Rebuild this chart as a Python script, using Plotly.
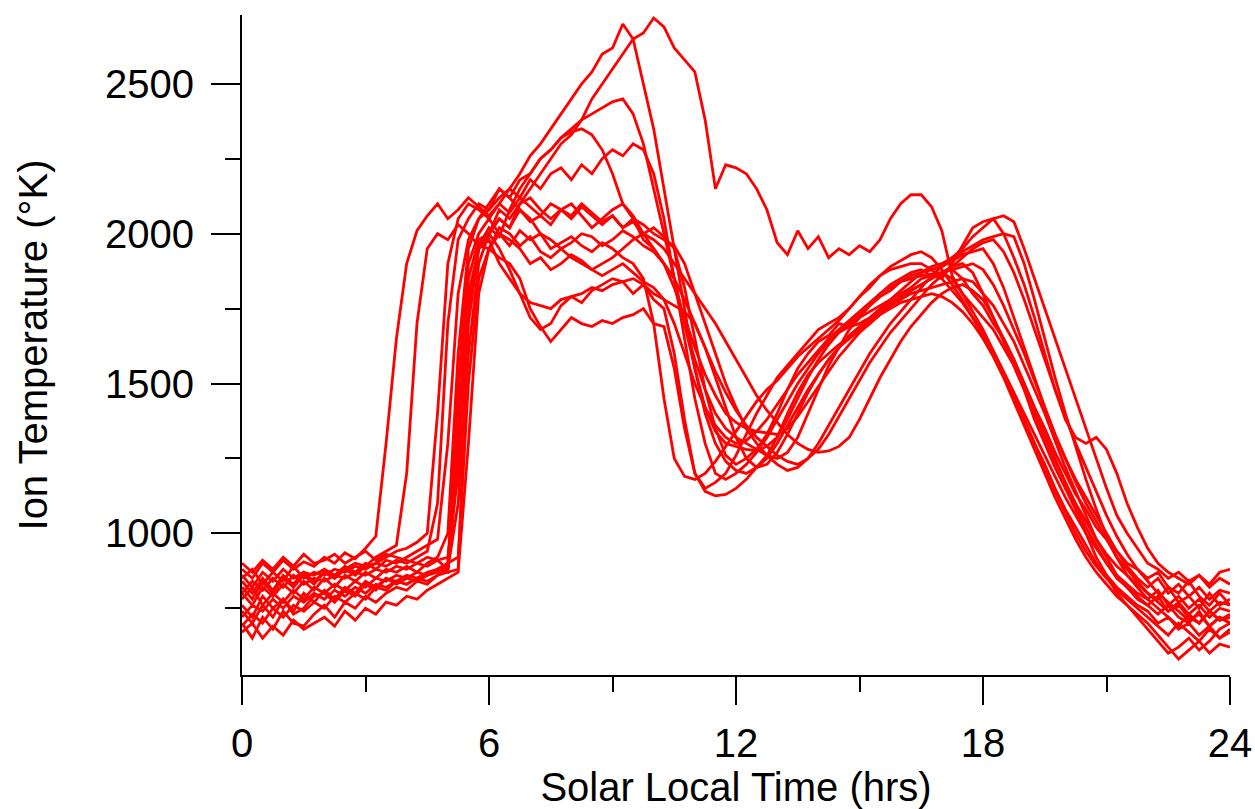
import plotly.graph_objects as go

# Solar local time grid (hours)
T = [0, 0.25, 0.5, 0.75, 1, 1.25, 1.5, 1.75, 2, 2.25, 2.5, 2.75, 3, 3.25, 3.5, 3.75,
     4, 4.25, 4.5, 4.75, 5, 5.25, 5.5, 5.75, 6, 6.25, 6.5, 6.75, 7, 7.25, 7.5, 7.75,
     8, 8.25, 8.5, 8.75, 9, 9.25, 9.5, 9.75, 10, 10.25, 10.5, 10.75, 11, 11.25, 11.5, 11.75,
     12, 12.25, 12.5, 12.75, 13, 13.25, 13.5, 13.75, 14, 14.25, 14.5, 14.75, 15, 15.25, 15.5, 15.75,
     16, 16.25, 16.5, 16.75, 17, 17.25, 17.5, 17.75, 18, 18.25, 18.5, 18.75, 19, 19.25, 19.5, 19.75,
     20, 20.25, 20.5, 20.75, 21, 21.25, 21.5, 21.75, 22, 22.25, 22.5, 22.75, 23, 23.25, 23.5, 23.75, 24]

c01 = [880, 850, 900, 870, 910, 880, 905, 890,
       920, 900, 935, 915, 950, 990, 1300, 1650,
       1900, 2010, 2060, 2100, 2050, 2080, 2120, 2090,
       2060, 2100, 2070, 2120, 2090, 2060, 2100, 2080,
       2050, 2090, 2060, 2030, 2060, 2020, 2040, 2000,
       2020, 1990, 1950, 1820, 1650, 1480, 1350, 1260,
       1230, 1250, 1280, 1330, 1400, 1480, 1550, 1600,
       1640, 1660, 1700, 1690, 1720, 1740, 1760, 1780,
       1800, 1820, 1850, 1860, 1870, 1880, 1850, 1800,
       1760, 1700, 1650, 1580, 1500, 1420, 1350, 1270,
       1200, 1130, 1080, 1020, 980, 940, 900, 880,
       850, 870, 820, 800, 840, 790, 760, 800,
       760]
c02 = [820, 780, 840, 800, 850, 820, 860, 830,
       870, 850, 880, 900, 890, 920, 940, 960,
       1200, 1700, 1950, 2000, 1980, 2030, 2000, 1960,
       1950, 1920, 1900, 1850, 1750, 1690, 1640, 1680,
       1720, 1700, 1690, 1710, 1700, 1720, 1730, 1750,
       1700, 1690, 1550, 1350, 1200, 1150, 1170, 1200,
       1260, 1330, 1400, 1460, 1520, 1560, 1600, 1640,
       1680, 1700, 1720, 1750, 1790, 1820, 1860, 1890,
       1910, 1930, 1940, 1920, 1880, 1830, 1780, 1720,
       1660, 1600, 1530, 1450, 1380, 1300, 1230, 1150,
       1080, 1020, 960, 900, 860, 820, 790, 760,
       740, 700, 720, 680, 700, 660, 690, 650,
       680]
c03 = [700, 650, 720, 680, 740, 700, 690, 730,
       760, 720, 770, 750, 790, 770, 800, 820,
       810, 840, 830, 860, 880, 1400, 1850, 1980,
       2000, 1950, 1880, 1800, 1720, 1680, 1700, 1760,
       1790, 1770, 1810, 1830, 1850, 1840, 1800, 1830,
       1780, 1750, 1600, 1380, 1200, 1140, 1125, 1130,
       1150, 1180, 1220, 1260, 1320, 1400, 1470, 1530,
       1570, 1600, 1630, 1650, 1680, 1700, 1740, 1770,
       1790, 1810, 1830, 1850, 1870, 1890, 1900, 1870,
       1800, 1720, 1640, 1560, 1480, 1380, 1300, 1220,
       1150, 1080, 1000, 920, 860, 800, 760, 720,
       680, 640, 600, 620, 650, 610, 640, 680,
       700]
c04 = [800, 760, 820, 790, 830, 800, 840, 810,
       850, 820, 860, 840, 870, 850, 880, 870,
       890, 870, 900, 920, 1000, 1600, 1950, 2050,
       2080, 2120, 2150, 2200, 2260, 2300, 2350, 2400,
       2450, 2500, 2540, 2600, 2620, 2700, 2650, 2500,
       2350, 2150, 1950, 1750, 1550, 1400, 1300, 1240,
       1210, 1200, 1220, 1250, 1300, 1360, 1420, 1480,
       1530, 1580, 1620, 1660, 1690, 1710, 1740, 1760,
       1780, 1800, 1810, 1820, 1830, 1840, 1850, 1840,
       1800, 1760, 1700, 1640, 1560, 1480, 1400, 1310,
       1220, 1140, 1060, 980, 920, 860, 820, 790,
       760, 730, 760, 720, 700, 740, 690, 720,
       700]
c05 = [760, 720, 790, 750, 780, 740, 800, 770,
       810, 780, 820, 800, 840, 820, 850, 840,
       860, 850, 870, 880, 900, 1300, 1800, 1950,
       2000, 2050, 2020, 2100, 2150, 2200, 2250, 2300,
       2330, 2380, 2450, 2500, 2550, 2600, 2650, 2670,
       2720, 2690, 2620, 2580, 2540, 2380, 2150, 2230,
       2220, 2200, 2150, 2080, 1970, 1930, 2010, 1950,
       1990, 1920, 1950, 1930, 1960, 1940, 1980, 2050,
       2100, 2130, 2130, 2090, 2010, 1860, 1800, 1760,
       1720, 1680, 1620, 1560, 1480, 1400, 1320, 1240,
       1170, 1100, 1040, 980, 930, 890, 860, 830,
       800, 780, 820, 770, 790, 750, 800, 760,
       780]
c06 = [850, 880, 830, 870, 840, 890, 850, 870,
       860, 880, 870, 890, 880, 900, 890, 910,
       900, 920, 940, 1100, 1700, 1980, 2050, 2100,
       2080, 2150, 2120, 2180, 2200, 2250, 2280, 2320,
       2350, 2380, 2400, 2420, 2440, 2450, 2400, 2300,
       2150, 2000, 1850, 1700, 1580, 1480, 1400, 1350,
       1320, 1300, 1280, 1260, 1250, 1270, 1320, 1400,
       1480, 1560, 1620, 1680, 1720, 1760, 1800, 1830,
       1850, 1870, 1880, 1860, 1850, 1900, 1960, 2020,
       2040, 2050, 2000, 1920, 1830, 1720, 1600, 1480,
       1380, 1320, 1300, 1320, 1280, 1200, 1100, 1020,
       950, 900, 870, 850, 830, 860, 820, 850,
       830]
c07 = [740, 700, 760, 720, 780, 730, 750, 790,
       800, 770, 810, 790, 830, 810, 850, 830,
       850, 840, 860, 880, 870, 1250, 1750, 1960,
       2020, 1990, 2080, 2150, 2200, 2250, 2280, 2320,
       2340, 2350, 2330, 2280, 2200, 2100, 2050, 1980,
       1950, 1900, 1850, 1700, 1550, 1420, 1340, 1300,
       1290, 1280, 1275, 1290, 1320, 1380, 1450, 1520,
       1580, 1630, 1670, 1700, 1730, 1760, 1790, 1810,
       1840, 1860, 1870, 1880, 1890, 1910, 1930, 1940,
       1950, 1900, 1820, 1720, 1620, 1520, 1420, 1330,
       1250, 1170, 1100, 1040, 980, 920, 880, 840,
       800, 770, 740, 760, 720, 700, 740, 710,
       730]
c08 = [900, 870, 910, 880, 920, 890, 930, 900,
       910, 930, 900, 920, 940, 910, 930, 920,
       910, 900, 920, 910, 880, 1100, 1600, 1900,
       2000, 2050, 2020, 2080, 2040, 2060, 2030, 2080,
       2060, 2100, 2070, 2040, 2060, 2020, 2050, 2030,
       2000, 1980, 1960, 1900, 1800, 1700, 1600, 1500,
       1420, 1350, 1300, 1260, 1230, 1210, 1220, 1250,
       1300, 1360, 1420, 1480, 1540, 1600, 1650, 1700,
       1740, 1780, 1820, 1860, 1890, 1920, 1950, 1990,
       2020, 2050, 2060, 2040, 1950, 1850, 1750, 1650,
       1550, 1450, 1350, 1250, 1150, 1060, 1000, 950,
       900, 880, 850, 870, 840, 860, 830, 870,
       880]
c09 = [780, 820, 760, 800, 770, 810, 780, 820,
       800, 830, 810, 840, 820, 850, 840, 860,
       850, 870, 860, 880, 900, 920, 1500, 1850,
       1950, 2000, 1980, 1950, 1900, 1920, 1880, 1900,
       1930, 1910, 1880, 1900, 1920, 1950, 1980, 2000,
       1980, 1950, 1900, 1850, 1800, 1750, 1700, 1640,
       1580, 1520, 1460, 1410, 1370, 1330, 1300, 1280,
       1270, 1275, 1290, 1320, 1380, 1450, 1520, 1580,
       1640, 1690, 1730, 1770, 1800, 1820, 1830, 1810,
       1780, 1720, 1650, 1580, 1500, 1420, 1330, 1250,
       1170, 1090, 1020, 960, 900, 850, 820, 780,
       760, 790, 740, 770, 730, 760, 720, 750,
       740]
c10 = [690, 730, 700, 750, 720, 760, 740, 770,
       750, 790, 770, 800, 780, 820, 810, 840,
       830, 850, 860, 870, 890, 1500, 1900, 2000,
       2050, 2000, 1960, 2010, 1980, 2000, 1950, 1970,
       1990, 1960, 1940, 1970, 1950, 1920, 1900, 1850,
       1700, 1450, 1250, 1190, 1180, 1200, 1240, 1290,
       1340, 1390, 1440, 1480, 1510, 1550, 1590, 1620,
       1650, 1680, 1710, 1750, 1790, 1830, 1860, 1880,
       1890, 1900, 1900, 1880, 1850, 1810, 1770, 1720,
       1670, 1600, 1530, 1460, 1380, 1300, 1220, 1140,
       1070, 1000, 940, 890, 850, 810, 780, 750,
       720, 690, 660, 700, 670, 640, 680, 650,
       670]
c11 = [860, 820, 870, 840, 880, 850, 870, 860,
       880, 860, 890, 870, 900, 880, 910, 900,
       920, 940, 960, 980, 1300, 1800, 1980, 2050,
       2100, 2150, 2120, 2080, 2050, 2000, 1980, 1950,
       1920, 1900, 1880, 1860, 1880, 1900, 1870, 1840,
       1820, 1780, 1700, 1600, 1500, 1420, 1360, 1320,
       1300, 1310, 1340, 1380, 1430, 1480, 1530, 1570,
       1610, 1650, 1680, 1710, 1740, 1770, 1800, 1820,
       1840, 1850, 1860, 1865, 1870, 1850, 1800, 1740,
       1680, 1610, 1540, 1470, 1400, 1330, 1260, 1190,
       1120, 1060, 1000, 950, 900, 860, 830, 800,
       780, 810, 760, 790, 750, 780, 740, 770,
       760]
c12 = [720, 760, 740, 780, 750, 790, 770, 800,
       780, 810, 790, 820, 800, 830, 820, 840,
       830, 850, 840, 860, 870, 880, 1700, 1950,
       2000, 2080, 2050, 2100, 2120, 2080, 2050, 2080,
       2100, 2060, 2020, 2050, 2080, 2100, 2060, 2000,
       1950, 1900, 1850, 1780, 1700, 1620, 1540, 1470,
       1410, 1360, 1320, 1290, 1260, 1240, 1230, 1250,
       1280, 1330, 1390, 1450, 1510, 1570, 1620, 1670,
       1710, 1750, 1790, 1830, 1860, 1890, 1920, 1950,
       1970, 1980, 1940, 1870, 1780, 1680, 1580, 1480,
       1390, 1300, 1220, 1140, 1060, 990, 930, 880,
       840, 800, 770, 740, 710, 730, 690, 720,
       700]
c13 = [800, 840, 810, 850, 820, 860, 830, 850,
       840, 860, 850, 870, 860, 880, 870, 890,
       880, 900, 890, 910, 920, 1200, 1750, 1950,
       1980, 1900, 1850, 1800, 1770, 1760, 1750, 1780,
       1790, 1800, 1820, 1810, 1830, 1840, 1850, 1830,
       1800, 1780, 1760, 1740, 1700, 1620, 1520, 1420,
       1320, 1250, 1220, 1230, 1270, 1330, 1400, 1470,
       1530, 1580, 1620, 1650, 1680, 1710, 1730, 1750,
       1770, 1780, 1790, 1800, 1790, 1770, 1740, 1700,
       1650, 1590, 1520, 1440, 1360, 1280, 1200, 1120,
       1050, 980, 920, 870, 830, 790, 760, 730,
       700, 660, 620, 580, 610, 640, 600, 630,
       620]
c14 = [670, 700, 650, 690, 660, 710, 680, 700,
       720, 690, 740, 710, 750, 730, 770, 760,
       790, 780, 810, 830, 850, 870, 1300, 1800,
       1950, 2020, 2000, 1960, 1990, 1940, 1920, 1950,
       1970, 2000, 1990, 1960, 1980, 2010, 1990, 1960,
       1940, 1900, 1820, 1720, 1620, 1530, 1460, 1400,
       1370, 1350, 1340, 1335, 1330, 1350, 1390, 1440,
       1490, 1540, 1590, 1630, 1670, 1700, 1730, 1760,
       1790, 1810, 1830, 1850, 1870, 1880, 1890, 1900,
       1880, 1830, 1760, 1680, 1600, 1510, 1420, 1330,
       1250, 1180, 1120, 1060, 1000, 940, 890, 850,
       820, 850, 800, 830, 790, 820, 780, 810,
       800]
c15 = [840, 800, 850, 810, 860, 830, 870, 840,
       870, 850, 880, 860, 890, 900, 920, 940,
       950, 970, 1000, 1400, 1900, 2050, 2100, 2080,
       2050, 2100, 2150, 2120, 2180, 2150, 2200, 2220,
       2180, 2230, 2200, 2250, 2280, 2260, 2300, 2280,
       2200, 2050, 1850, 1650, 1450, 1300, 1200, 1180,
       1200, 1230, 1270, 1320, 1380, 1440, 1500, 1550,
       1600, 1640, 1670, 1690, 1700, 1720, 1750, 1780,
       1810, 1840, 1870, 1890, 1900, 1920, 1940, 1960,
       1980, 1990, 2000, 1990, 1900, 1780, 1650, 1520,
       1400, 1290, 1180, 1080, 990, 920, 860, 820,
       780, 750, 720, 690, 730, 700, 740, 710,
       720]

curves = [c01, c02, c03, c04, c05, c06, c07, c08, c09, c10, c11, c12, c13, c14, c15]

X_TICKS = [0, 6, 12, 18, 24]
X_MINOR = [3, 9, 15, 21]
Y_TICKS = [1000, 1500, 2000, 2500]
Y_MINOR = [750, 1250, 1750, 2250]

FONT = "Liberation Sans, Arial, Helvetica, sans-serif"

fig = go.Figure()
for c in curves:
    fig.add_trace(go.Scatter(x=T, y=c, mode="lines",
                             line=dict(color="#ff0000", width=2.8),
                             showlegend=False, hoverinfo="skip"))

fig.update_layout(
    width=1255, height=809,
    margin=dict(l=242, r=25, t=15, b=134),
    paper_bgcolor="white", plot_bgcolor="white",
    font=dict(family=FONT, color="black"),
    xaxis=dict(
        range=[0, 24], showgrid=False, zeroline=False, automargin=False,
        showline=True, linecolor="black", linewidth=2,
        ticks="outside", ticklen=28, tickwidth=2, tickcolor="black",
        tickvals=X_TICKS, ticktext=[str(v) for v in X_TICKS],
        tickfont=dict(size=40, family=FONT), ticklabelstandoff=4,
        minor=dict(tickvals=X_MINOR, ticks="outside", ticklen=15,
                   tickwidth=2, tickcolor="black", showgrid=False),
        title=dict(text="Solar Local Time (hrs)", font=dict(size=40, family=FONT),
                   standoff=12),
    ),
    yaxis=dict(
        range=[527, 2730], showgrid=False, zeroline=False, automargin=False,
        showline=True, linecolor="black", linewidth=2,
        ticks="outside", ticklen=29, tickwidth=2, tickcolor="black",
        tickvals=Y_TICKS, ticktext=[str(v) for v in Y_TICKS],
        tickfont=dict(size=40, family=FONT), ticklabelstandoff=9,
        minor=dict(tickvals=Y_MINOR, ticks="outside", ticklen=15,
                   tickwidth=2, tickcolor="black", showgrid=False),
        title=dict(text="Ion Temperature (°K)", font=dict(size=40, family=FONT),
                   standoff=45),
    ),
)

fig.write_html("out.html")
